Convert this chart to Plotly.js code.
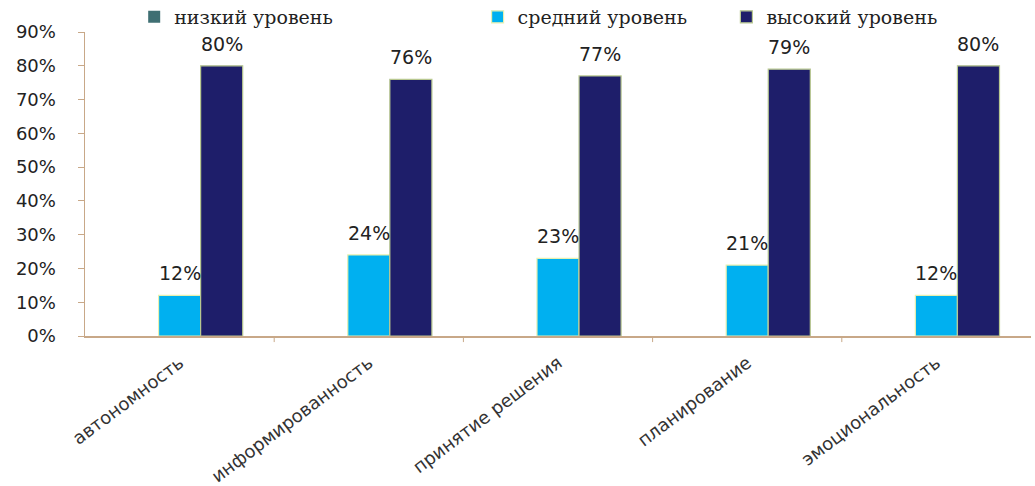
<!DOCTYPE html>
<html>
<head>
<meta charset="utf-8">
<script src="https://cdn.plot.ly/plotly-3.0.1.min.js"></script>
<style>html,body{margin:0;padding:0;background:#fff;}#chart{width:1035px;height:486px;}</style>
</head>
<body>
<div id="chart"></div>
<script>
const categories = ["автономность", "информированность", "принятие решения", "планирование", "эмоциональность"];
const seriesNames = ["низкий уровень", "средний уровень", "высокий уровень"];
const lowValues = [0, 0, 0, 0, 0];
const midValues = [12, 24, 23, 21, 12];
const highValues = [80, 76, 77, 79, 80];
const yTicks = [0, 10, 20, 30, 40, 50, 60, 70, 80, 90];

const bargap = 0.333;
const barWidthUnits = (1 - bargap) / 3;
const labelFont = {family: "DejaVu Sans, sans-serif", size: 19, color: "#222"};
const legendFont = {family: "DejaVu Serif, Liberation Serif, serif", size: 19, color: "#222"};

const traces = [
  {
    type: "bar", name: seriesNames[0], x: categories, y: lowValues, legend: "legend",
    marker: {color: "#3f6f73", line: {width: 0}},
    hoverinfo: "none"
  },
  {
    type: "bar", name: seriesNames[1], x: categories, y: midValues, legend: "legend2",
    marker: {color: "#00b0f0", line: {color: "#e6f0b0", width: 1.2}},
    hoverinfo: "none"
  },
  {
    type: "bar", name: seriesNames[2], x: categories, y: highValues, legend: "legend3",
    marker: {color: "#1e1e6a", line: {color: "#b8c890", width: 1.2}},
    hoverinfo: "none"
  }
];

function valueLabels(values, offset) {
  return values.map((v, i) => ({
    xref: "x", yref: "y", x: i + offset, y: v, text: v + "%",
    showarrow: false, yanchor: "bottom", xanchor: "center", yshift: 9,
    font: labelFont
  }));
}

function legendAt(x) {
  return {orientation: "h", x: x, xanchor: "left", yref: "container", y: 0.965, yanchor: "middle",
          font: legendFont, itemwidth: 30, bgcolor: "rgba(0,0,0,0)"};
}

const layout = {
  width: 1035, height: 486,
  margin: {l: 85, r: 4, t: 32, b: 150, autoexpand: false},
  paper_bgcolor: "#fff", plot_bgcolor: "#fff",
  barmode: "group", bargap: bargap, bargroupgap: 0,
  showlegend: true,
  legend: legendAt(0.052),
  legend2: legendAt(0.415),
  legend3: legendAt(0.678),
  xaxis: {
    type: "category", tickangle: -37, automargin: false,
    tickfont: {family: "DejaVu Sans, sans-serif", size: 18, color: "#333"},
    showline: true, linecolor: "#c8a888", linewidth: 1.5, ticklabelstandoff: 8,
    ticks: "", showgrid: false, zeroline: false
  },
  yaxis: {
    range: [0, 90], tickvals: yTicks, ticktext: yTicks.map(v => v + "%"), automargin: false,
    tickfont: {family: "DejaVu Sans, sans-serif", size: 18, color: "#222"},
    showline: true, linecolor: "#c8a888", linewidth: 1.5,
    ticks: "outside", ticklen: 6, tickcolor: "#c8a888", ticklabelstandoff: 18,
    showgrid: false, zeroline: false
  },
  annotations: valueLabels(midValues, 0).concat(valueLabels(highValues, barWidthUnits)),
  shapes: categories.slice(0, -1).map((c, i) => ({
    type: "line", xref: "x", yref: "paper", x0: i + 0.5, x1: i + 0.5, y0: 0, y1: -0.02,
    line: {color: "#c8a888", width: 1}
  }))
};

Plotly.newPlot("chart", traces, layout, {displayModeBar: false, staticPlot: true});
</script>
</body>
</html>
